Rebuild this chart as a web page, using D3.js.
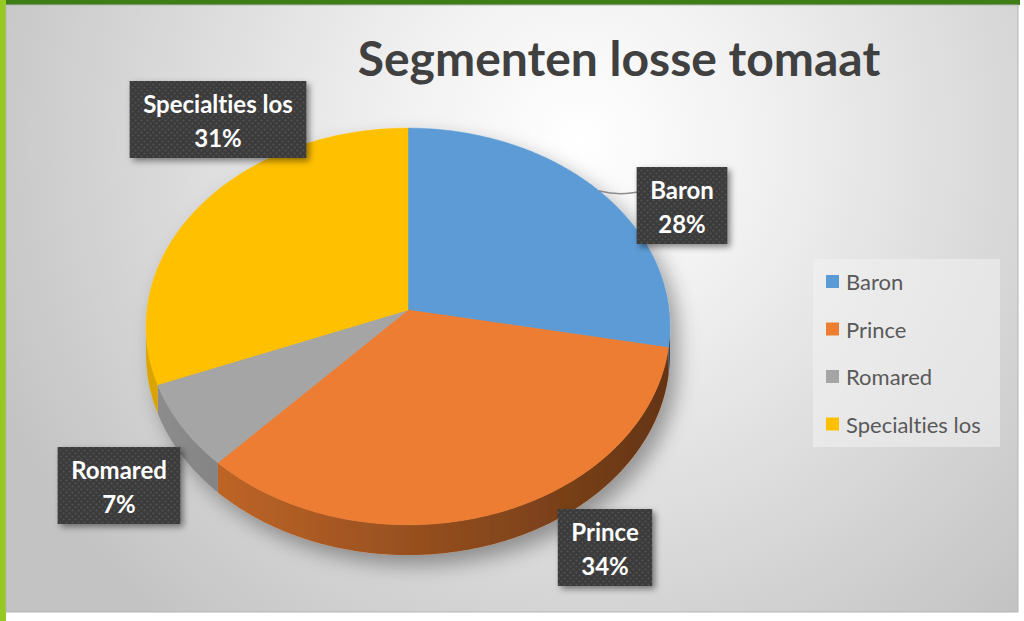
<!DOCTYPE html>
<html>
<head>
<meta charset="utf-8">
<script src="https://cdn.jsdelivr.net/npm/d3@7"></script>
<style>
  html, body { margin: 0; padding: 0; background: #ffffff; }
  svg { display: block; }
  text { font-variant-ligatures: none; }
</style>
</head>
<body>
<div id="chart"></div>
<script>
// data
const categories = ['Baron', 'Prince', 'Romared', 'Specialties los'];
const shares = [28, 34, 7, 31];
const colors = ['#5b9bd5', '#ed7d31', '#a5a5a5', '#ffc000'];
const title = 'Segmenten losse tomaat';

const WIDTH = 1024;
const HEIGHT = 621;

// perspective pie geometry
const PIE = { cx: 408, cy: 310, rx: 261, ry: 197, k: 0.083, depth: 30 };

// data label boxes (centre positions, best-fit placement as in the source)
const LABEL_POS = {
  'Baron': [682, 205],
  'Prince': [605, 547],
  'Romared': [119, 485],
  'Specialties los': [218, 119]
};

const svg = d3.select('#chart')
  .append('svg')
  .attr('width', WIDTH)
  .attr('height', HEIGHT);

const defs = svg.append('defs');

const bg = defs.append('radialGradient')
  .attr('id', 'bg')
  .attr('gradientUnits', 'userSpaceOnUse')
  .attr('cx', 580).attr('cy', 140).attr('r', 640);
bg.append('stop').attr('offset', 0).attr('stop-color', '#ffffff');
bg.append('stop').attr('offset', 0.3).attr('stop-color', '#f0f0f0');
bg.append('stop').attr('offset', 1).attr('stop-color', '#c3c3c3');

const shade = defs.append('linearGradient')
  .attr('id', 'sideShade')
  .attr('gradientUnits', 'userSpaceOnUse')
  .attr('x1', PIE.cx - PIE.rx).attr('x2', PIE.cx + PIE.rx)
  .attr('y1', 0).attr('y2', 0);
shade.append('stop').attr('offset', 0).attr('stop-color', '#000').attr('stop-opacity', 0.14);
shade.append('stop').attr('offset', 1).attr('stop-color', '#000').attr('stop-opacity', 0.58);

const pieShadow = defs.append('filter').attr('id', 'pieShadow')
  .attr('x', '-20%').attr('y', '-20%').attr('width', '140%').attr('height', '140%');
pieShadow.append('feDropShadow')
  .attr('dx', 8).attr('dy', 10).attr('stdDeviation', 10)
  .attr('flood-color', '#000').attr('flood-opacity', 0.35);

const boxShadow = defs.append('filter').attr('id', 'boxShadow')
  .attr('x', '-20%').attr('y', '-20%').attr('width', '140%').attr('height', '140%');
boxShadow.append('feDropShadow')
  .attr('dx', 3).attr('dy', 3).attr('stdDeviation', 3)
  .attr('flood-color', '#000').attr('flood-opacity', 0.45);

const dots = defs.append('pattern')
  .attr('id', 'dots')
  .attr('patternUnits', 'userSpaceOnUse')
  .attr('width', 6).attr('height', 6);
dots.append('rect').attr('width', 6).attr('height', 6).attr('fill', '#3a3a3a');
dots.append('circle').attr('cx', 1.5).attr('cy', 1.5).attr('r', 1.1).attr('fill', '#505050');
dots.append('circle').attr('cx', 4.5).attr('cy', 4.5).attr('r', 1.1).attr('fill', '#505050');

// frame: green borders and chart area
svg.append('rect')
  .attr('x', 0).attr('y', 0).attr('width', 1020).attr('height', 5)
  .attr('fill', '#3f7d17');
svg.append('rect')
  .attr('x', 0).attr('y', 0).attr('width', 6).attr('height', HEIGHT)
  .attr('fill', '#95c820');
svg.append('rect')
  .attr('x', 6).attr('y', 5).attr('width', 1012).attr('height', 607)
  .attr('fill', 'url(#bg)')
  .attr('stroke', '#b5b5b5').attr('stroke-width', 1);

// title
svg.append('text')
  .attr('x', 619).attr('y', 76)
  .attr('text-anchor', 'middle')
  .style('font-family', 'Lato, "Open Sans", sans-serif')
  .style('font-weight', 700)
  .style('font-size', '48px')
  .attr('fill', '#404040')
  .text(title);

// projection of a point on the pie rim
function project(theta, drop) {
  const u = Math.sin(theta);
  const v = -Math.cos(theta);
  const s = 1 / (1 - PIE.k * v);
  return [
    PIE.cx + PIE.rx * u * s,
    PIE.cy + PIE.ry * v * s + (drop ? PIE.depth * s / (1 + PIE.k) : 0)
  ];
}

function arcPoints(a0, a1, drop) {
  const n = Math.max(2, Math.ceil((a1 - a0) / 0.01));
  return d3.range(n + 1).map(i => project(a0 + (a1 - a0) * i / n, drop));
}

// silhouette: left and right extreme points of the rim
const samples = d3.range(0, 2 * Math.PI, 0.002);
const thetaRight = samples[d3.maxIndex(samples, t => project(t)[0])];
const thetaLeft = samples[d3.minIndex(samples, t => project(t)[0])];

const arcs = d3.pie().sort(null).value(d => d)(shares);
const line = d3.line();

const pieG = svg.append('g').attr('filter', 'url(#pieShadow)');

// visible outer walls
arcs.forEach((a, i) => {
  const t0 = Math.max(a.startAngle, thetaRight);
  const t1 = Math.min(a.endAngle, thetaLeft);
  if (t1 <= t0) return;
  const pts = arcPoints(t0, t1, false).concat(arcPoints(t0, t1, true).reverse());
  const d = line(pts) + 'Z';
  pieG.append('path').attr('d', d).attr('fill', colors[i]);
  pieG.append('path').attr('d', d).attr('fill', 'url(#sideShade)');
});

// top faces
arcs.forEach((a, i) => {
  const pts = [[PIE.cx, PIE.cy]].concat(arcPoints(a.startAngle, a.endAngle, false));
  pieG.append('path')
    .attr('d', line(pts) + 'Z')
    .attr('fill', colors[i])
    .attr('stroke', colors[i])
    .attr('stroke-width', 0.5);
});

// leader line for Baron
const baronMid = project((arcs[0].startAngle + arcs[0].endAngle) / 2, false);
const baronBox = LABEL_POS['Baron'];
svg.append('path')
  .attr('d', d3.line().curve(d3.curveBasis)([
    baronMid, [baronMid[0] + 18, baronMid[1] + 4], [baronBox[0] - 44, baronBox[1] - 13]
  ]))
  .attr('stroke', '#8c8c8c')
  .attr('stroke-width', 1.5)
  .attr('fill', 'none');

// data labels
categories.forEach((c, i) => {
  const [lx, ly] = LABEL_POS[c];
  const g = svg.append('g').attr('transform', `translate(${lx},${ly})`);
  const box = g.append('rect').attr('fill', 'url(#dots)').attr('filter', 'url(#boxShadow)');
  const t1 = g.append('text')
    .attr('x', 0).attr('y', -6)
    .attr('text-anchor', 'middle')
    .style('font-family', 'Lato, "Open Sans", sans-serif')
    .style('font-weight', 700)
    .style('font-size', '24px')
    .attr('fill', '#ffffff')
    .text(c);
  g.append('text')
    .attr('x', 0).attr('y', 28)
    .attr('text-anchor', 'middle')
    .style('font-family', 'Lato, "Open Sans", sans-serif')
    .style('font-weight', 700)
    .style('font-size', '24px')
    .attr('fill', '#ffffff')
    .text(shares[i] + '%');
  const w = t1.node().getComputedTextLength() + 27;
  box.attr('x', -w / 2).attr('y', -38).attr('width', w).attr('height', 77);
});

// legend
const legend = svg.append('g').attr('transform', 'translate(813,259)');
legend.append('rect')
  .attr('width', 187).attr('height', 188)
  .attr('fill', '#f2f2f2').attr('fill-opacity', 0.55);
categories.forEach((c, i) => {
  const y = 23 + i * 47.5;
  legend.append('rect')
    .attr('x', 13).attr('y', y - 7).attr('width', 13).attr('height', 13)
    .attr('fill', colors[i]);
  legend.append('text')
    .attr('x', 33).attr('y', y + 8)
    .style('font-family', 'Lato, "Open Sans", sans-serif')
    .style('font-size', '22px')
    .attr('fill', '#595959')
    .text(c);
});
</script>
</body>
</html>
